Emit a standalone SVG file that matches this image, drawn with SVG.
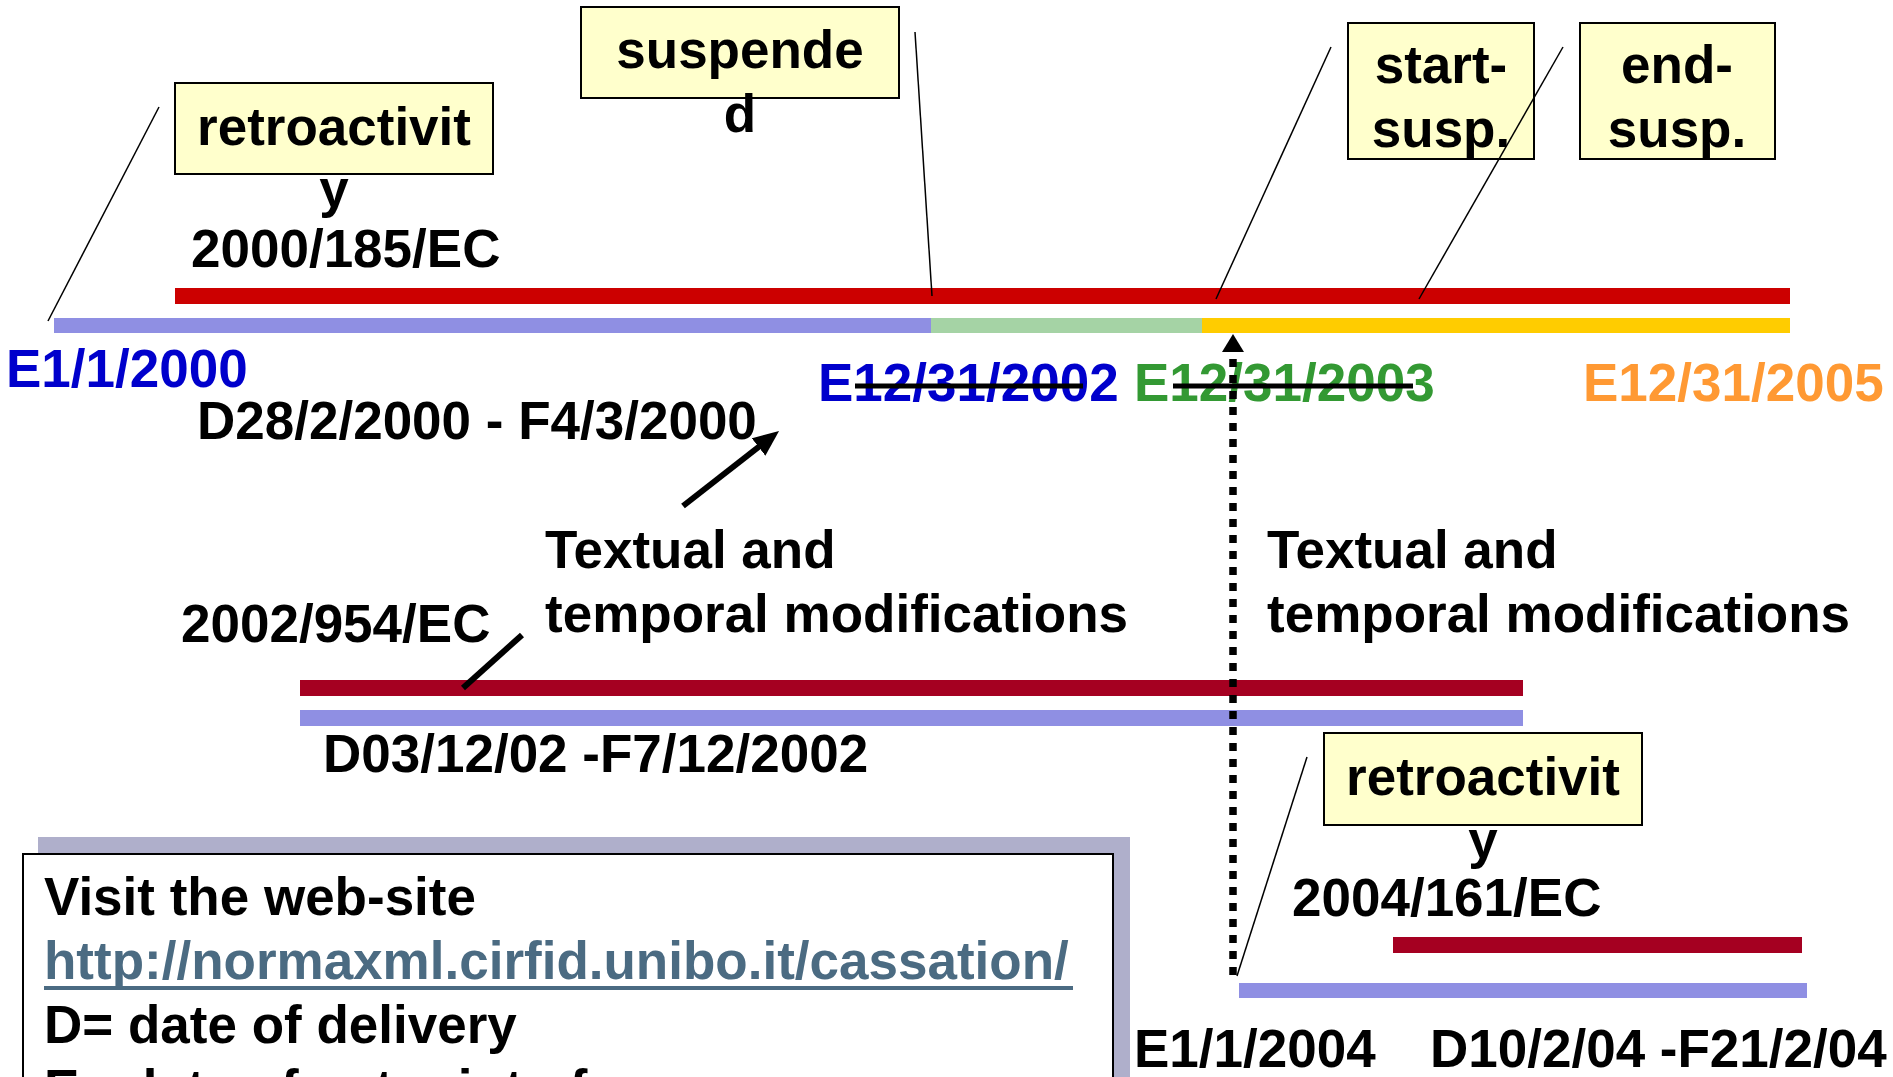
<svg xmlns="http://www.w3.org/2000/svg" width="1893" height="1077" viewBox="0 0 1893 1077">
  <style>
    text { font-family: "Liberation Sans", Arial, sans-serif; font-weight: bold; font-size: 53px; fill: #000; }
    .mid { text-anchor: middle; }
    .box { fill: #FFFFCC; stroke: #000; stroke-width: 2; }
    .thin { stroke: #000; stroke-width: 1.5; fill: none; }
    .thick { stroke: #000; stroke-width: 6; fill: none; }
    .dotted { stroke: #000; stroke-width: 7.5; stroke-dasharray: 8 8; fill: none; }
    .strike { stroke: #000; stroke-width: 5; }
    .red { fill: #CC0000; }
    .dred { fill: #A50021; }
    .purple { fill: #8F8FE3; }
    .green { fill: #A5D3A5; }
    .yellow { fill: #FFCC00; }
    .blue { fill: #0000CC; }
    .gtext { fill: #339933; }
    .otext { fill: #FF9933; }
    .url { fill: #4B6B82; }
  </style>
  <defs>
    <marker id="headThick" markerUnits="userSpaceOnUse" markerWidth="28" markerHeight="24" refX="6" refY="11" orient="auto">
      <path d="M0,0 L26,11 L0,22 z" fill="#000"/>
    </marker>
    <marker id="headDotted" markerUnits="userSpaceOnUse" markerWidth="20" markerHeight="24" refX="1" refY="11" orient="auto">
      <path d="M0,0 L18,11 L0,22 z" fill="#000"/>
    </marker>
  </defs>

  <rect width="1893" height="1077" fill="#FFFFFF"/>

  <!-- timeline bars -->
  <g id="bars">
    <rect class="red" x="175" y="288" width="1615" height="16"/>
    <rect class="purple" x="54" y="318" width="877" height="15"/>
    <rect class="green" x="931" y="318" width="271" height="15"/>
    <rect class="yellow" x="1202" y="318" width="588" height="15"/>
    <rect class="dred" x="300" y="680" width="1223" height="16"/>
    <rect class="purple" x="300" y="710" width="1223" height="16"/>
    <rect class="dred" x="1393" y="937" width="409" height="16"/>
    <rect class="purple" x="1239" y="983" width="568" height="15"/>
  </g>

  <!-- legend box -->
  <g id="legend">
    <rect x="38" y="837" width="1092" height="260" fill="#AFAFCB"/>
    <rect x="23" y="854" width="1090" height="240" fill="#FFFFFF" stroke="#000" stroke-width="2"/>
    <text x="44" y="915">Visit the web-site</text>
    <text class="url" x="44" y="979">http://normaxml.cirfid.unibo.it/cassation/</text>
    <line x1="44" y1="988" x2="1073" y2="988" stroke="#4B6B82" stroke-width="4"/>
    <text x="44" y="1043">D= date of delivery</text>
    <text x="44" y="1107">E= date of entry into force</text>
  </g>

  <!-- nodes -->
  <g id="retro1">
    <rect class="box" x="175" y="83" width="318" height="91"/>
    <text class="mid" x="334" y="145">retroactivit</text>
    <text class="mid" x="334" y="207">y</text>
  </g>
  <g id="dir2000">
    <text x="191" y="267">2000/185/EC</text>
  </g>
  <g id="suspended">
    <rect class="box" x="581" y="7" width="318" height="91"/>
    <text class="mid" x="740" y="68">suspende</text>
    <text class="mid" x="740" y="132">d</text>
  </g>
  <g id="start-susp">
    <rect class="box" x="1348" y="23" width="186" height="136"/>
    <text class="mid" x="1441" y="83">start-</text>
    <text class="mid" x="1441" y="147">susp.</text>
  </g>
  <g id="end-susp">
    <rect class="box" x="1580" y="23" width="195" height="136"/>
    <text class="mid" x="1677" y="83">end-</text>
    <text class="mid" x="1677" y="147">susp.</text>
  </g>

  <g id="date-labels">
    <text class="blue" x="6" y="387">E1/1/2000</text>
    <text class="blue" x="818" y="401">E12/31/2002</text>
    <line class="strike" x1="855" y1="386" x2="1083" y2="386"/>
    <text class="gtext" x="1134" y="401">E12/31/2003</text>
    <line class="strike" x1="1173" y1="386" x2="1413" y2="386"/>
    <text class="otext" x="1583" y="401">E12/31/2005</text>
    <text x="197" y="439">D28/2/2000 - F4/3/2000</text>
  </g>

  <g id="mod-left">
    <text x="545" y="568">Textual and</text>
    <text x="545" y="632">temporal modifications</text>
  </g>
  <g id="mod-right">
    <text x="1267" y="568">Textual and</text>
    <text x="1267" y="632">temporal modifications</text>
  </g>

  <g id="dir2002">
    <text x="181" y="642">2002/954/EC</text>
    <text x="323" y="772">D03/12/02 -F7/12/2002</text>
  </g>

  <g id="retro2">
    <rect class="box" x="1324" y="733" width="318" height="92"/>
    <text class="mid" x="1483" y="795">retroactivit</text>
    <text class="mid" x="1483" y="858">y</text>
  </g>
  <g id="dir2004">
    <text x="1292" y="916">2004/161/EC</text>
    <text x="1134" y="1067">E1/1/2004</text>
    <text x="1430" y="1067">D10/2/04 -F21/2/04</text>
  </g>

  <!-- connectors -->
  <g id="connectors">
    <line class="thin" x1="159" y1="107" x2="48" y2="321"/>
    <line class="thin" x1="915" y1="32" x2="932" y2="296"/>
    <line class="thin" x1="1331" y1="47" x2="1216" y2="299"/>
    <line class="thin" x1="1563" y1="47" x2="1419" y2="299"/>
    <line class="thin" x1="1307" y1="757" x2="1237" y2="976"/>
    <line class="thick" x1="683" y1="506" x2="763.3" y2="443.3" marker-end="url(#headThick)"/>
    <line class="thick" x1="522" y1="635" x2="463" y2="688"/>
    <line class="dotted" x1="1233" y1="975" x2="1233" y2="351" marker-end="url(#headDotted)"/>
  </g>
</svg>
